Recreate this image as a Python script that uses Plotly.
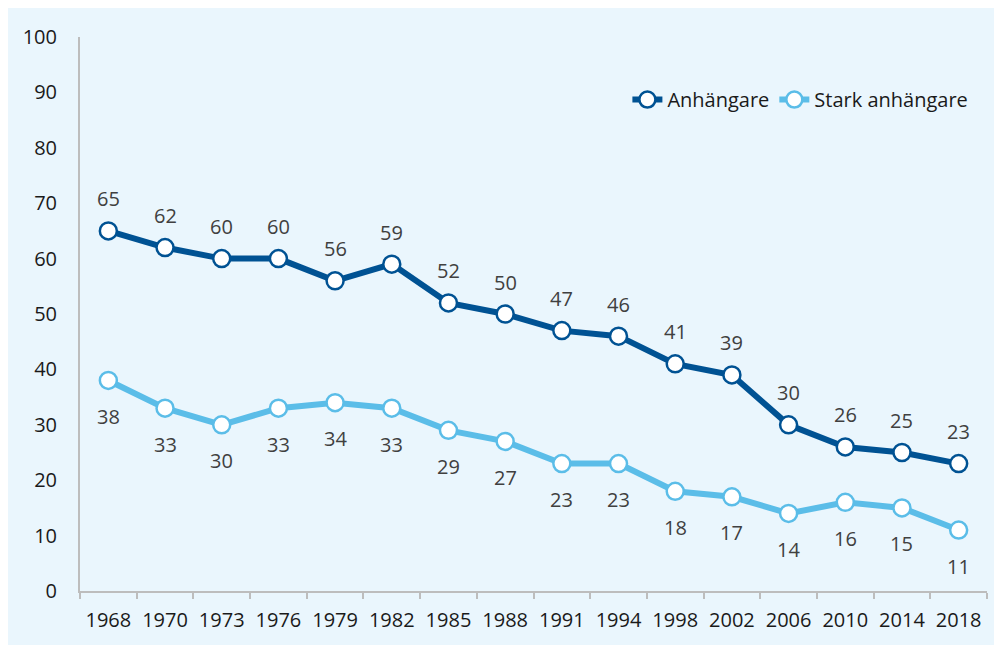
import plotly.graph_objects as go

years = ["1968", "1970", "1973", "1976", "1979", "1982", "1985", "1988",
         "1991", "1994", "1998", "2002", "2006", "2010", "2014", "2018"]
anhangare = [65, 62, 60, 60, 56, 59, 52, 50, 47, 46, 41, 39, 30, 26, 25, 23]
stark = [38, 33, 30, 33, 34, 33, 29, 27, 23, 23, 18, 17, 14, 16, 15, 11]
y_ticks = [0, 10, 20, 30, 40, 50, 60, 70, 80, 90, 100]

dark = "#005293"
light = "#5bbde8"
font = "Open Sans"
fs = 20

fig = go.Figure()
fig.add_trace(go.Scatter(
    x=years, y=anhangare, name="Anhängare", mode="lines+markers",
    line=dict(color=dark, width=6),
    marker=dict(size=17, color="white", line=dict(color=dark, width=2.5)),
))
fig.add_trace(go.Scatter(
    x=years, y=stark, name="Stark anhängare", mode="lines+markers",
    line=dict(color=light, width=6),
    marker=dict(size=17, color="white", line=dict(color=light, width=2.5)),
))

for i, v in enumerate(anhangare):
    fig.add_annotation(x=i, y=v, xref="x", yref="y", text=str(v), showarrow=False,
                       yshift=32, font=dict(family=font, size=fs, color="#404040"))
for i, v in enumerate(stark):
    fig.add_annotation(x=i, y=v, xref="x", yref="y", text=str(v), showarrow=False,
                       yshift=-36, font=dict(family=font, size=fs, color="#404040"))

fig.update_layout(
    width=994, height=637,
    margin=dict(l=72, r=15, t=29, b=48),
    paper_bgcolor="#eaf6fd", plot_bgcolor="rgba(0,0,0,0)",
    font=dict(family=font, size=fs, color="#1a1a1a"),
    showlegend=True,
    legend=dict(orientation="h", x=0.985, xanchor="right", y=0.887, yanchor="middle",
                bgcolor="rgba(0,0,0,0)", font=dict(family=font, size=fs, color="#1a1a1a"),
                tracegroupgap=0),
    xaxis=dict(type="category", tickson="boundaries", showgrid=False,
               showline=True, linecolor="#bdbdbd", linewidth=2,
               ticks="outside", ticklen=6, tickcolor="#bdbdbd", tickwidth=2,
               range=[-0.5, 15.5], zeroline=False, ticklabelstandoff=10,
               tickfont=dict(family=font, size=fs, color="#1a1a1a")),
    yaxis=dict(range=[0, 100], tickvals=y_ticks, showgrid=False, zeroline=False,
               showline=True, linecolor="#bdbdbd", linewidth=2, ticks="",
               ticklabelstandoff=17,
               tickfont=dict(family=font, size=fs, color="#1a1a1a")),
)

fig.write_html("out.html")
